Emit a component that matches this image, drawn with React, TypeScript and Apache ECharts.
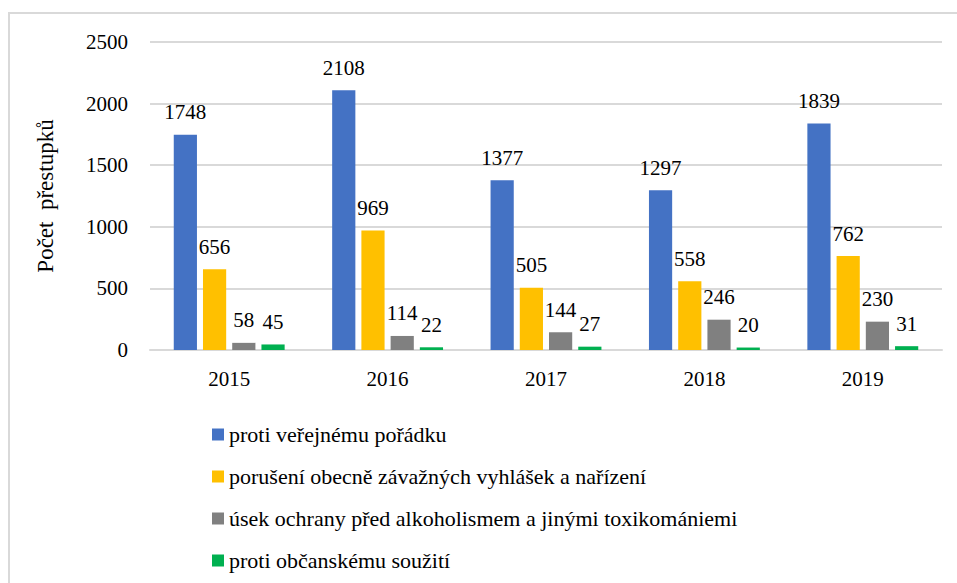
import React, { useEffect, useRef } from "react";
import * as echarts from "echarts";

const categories = ["2015", "2016", "2017", "2018", "2019"];
const seriesNames = [
  "proti veřejnému pořádku",
  "porušení obecně závažných vyhlášek a nařízení",
  "úsek ochrany před alkoholismem a jinými toxikomániemi",
  "proti občanskému soužití",
];
const verejnyPoradek = [1748, 2108, 1377, 1297, 1839];
const vyhlasky = [656, 969, 505, 558, 762];
const alkoholismus = [58, 114, 144, 246, 230];
const souziti = [45, 22, 27, 20, 31];
const colors = ["#4472C4", "#FFC000", "#808080", "#00B050"];
const yTicks = { min: 0, max: 2500, interval: 500 };

const FONT = "Liberation Serif";

export default function App() {
  const ref = useRef<HTMLDivElement>(null);
  useEffect(() => {
    if (!ref.current) return;
    const chart = echarts.init(ref.current, undefined, { renderer: "svg" });
    const data = [verejnyPoradek, vyhlasky, alkoholismus, souziti];
    chart.setOption({
      animation: false,
      backgroundColor: "#ffffff",
      textStyle: { fontFamily: FONT, color: "#000" },
      graphic: [
        {
          type: "rect",
          shape: { x: 9, y: 13, width: 1000, height: 700 },
          style: { fill: "none", stroke: "#d9d9d9", lineWidth: 2 },
          silent: true,
        },
      ],
      grid: { left: 150, right: 15, top: 42, bottom: 233, containLabel: false },
      legend: {
        orient: "vertical",
        left: 207,
        top: 418,
        itemWidth: 12,
        itemHeight: 12,
        itemGap: 19,
        icon: "rect",
        data: seriesNames,
        textStyle: { fontFamily: FONT, fontSize: 22, color: "#000", lineHeight: 23 },
      },
      xAxis: {
        type: "category",
        data: categories,
        axisLine: { lineStyle: { color: "#d9d9d9", width: 2 } },
        axisTick: { show: false },
        axisLabel: { fontFamily: FONT, fontSize: 21, color: "#000", margin: 18 },
      },
      yAxis: {
        type: "value",
        min: yTicks.min,
        max: yTicks.max,
        interval: yTicks.interval,
        name: "Počet  přestupků",
        nameLocation: "middle",
        nameGap: 93,
        nameTextStyle: { fontFamily: FONT, fontSize: 23, color: "#000" },
        axisLine: { show: false },
        axisTick: { show: false },
        splitLine: { lineStyle: { color: "#d9d9d9", width: 2 } },
        axisLabel: {
          fontFamily: FONT,
          fontSize: 21,
          color: "#000",
          margin: 22,
          formatter: (v: number) => String(v),
        },
      },
      series: seriesNames.map((name, i) => ({
        name,
        type: "bar",
        data: data[i],
        barGap: "26%",
        barCategoryGap: "30%",
        itemStyle: { color: colors[i] },
        label: {
          show: true,
          position: "top",
          distance: 12,
          fontFamily: FONT,
          fontSize: 21,
          color: "#000",
        },
      })),
    });
    return () => chart.dispose();
  }, []);
  return (
    <div
      ref={ref}
      style={{ position: "fixed", left: 0, top: 0, width: 957, height: 583 }}
    />
  );
}
